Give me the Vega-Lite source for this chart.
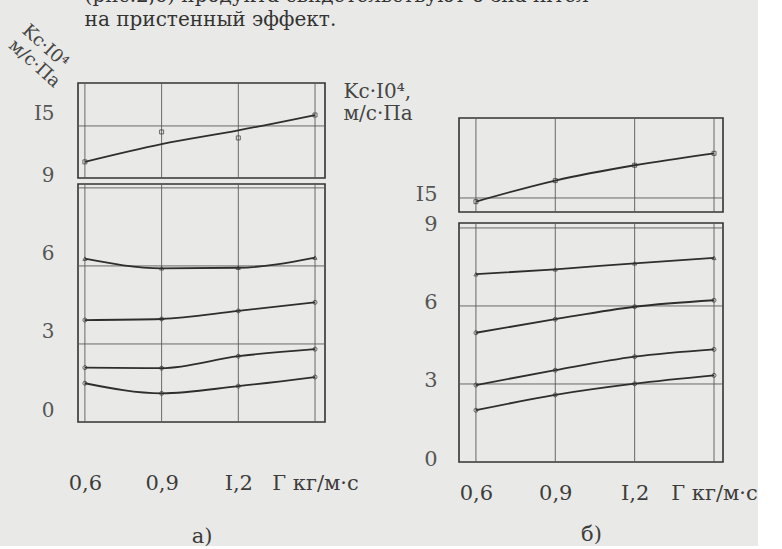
{
  "$schema": "https://vega.github.io/schema/vega-lite/v6.json",
  "background": "#e9e9e7",
  "padding": {"left": 4, "top": -14, "right": 0, "bottom": 0},
  "bounds": "flush",
  "spacing": 134,
  "title": {
    "text": ["\u2003\u2003\u2003(рис.2,б) продукта свидетельствуют о значител", "на пристенный эффект."],
    "anchor": "start", "font": "DejaVu Serif", "fontSize": 20, "fontWeight": "normal",
    "color": "#333333", "lineHeight": 24, "offset": -9, "dx": 80
  },
  "config": {"view": {"stroke": null}, "font": "DejaVu Serif"},
  "datasets": {
    "frames": [
      {"panel": "a", "x": 0.573, "x2": 1.539, "y": 0, "y2": 9.15},
      {"panel": "a", "x": 0.573, "x2": 1.539, "y": 13.0, "y2": 16.65},
      {"panel": "b", "x": 0.536, "x2": 1.534, "y": 0, "y2": 9.19},
      {"panel": "b", "x": 0.536, "x2": 1.534, "y": 14.46, "y2": 18.08}
    ],
    "hgrid": [
      {"panel": "a", "x": 0.573, "x2": 1.539, "y": 3},
      {"panel": "a", "x": 0.573, "x2": 1.539, "y": 6},
      {"panel": "a", "x": 0.573, "x2": 1.539, "y": 9},
      {"panel": "a", "x": 0.573, "x2": 1.539, "y": 15},
      {"panel": "b", "x": 0.536, "x2": 1.534, "y": 3},
      {"panel": "b", "x": 0.536, "x2": 1.534, "y": 6},
      {"panel": "b", "x": 0.536, "x2": 1.534, "y": 9},
      {"panel": "b", "x": 0.536, "x2": 1.534, "y": 15}
    ],
    "vgrid": [
      {"panel": "a", "x": 0.6, "y": 0, "y2": 9.15},
      {"panel": "a", "x": 0.9, "y": 0, "y2": 9.15},
      {"panel": "a", "x": 1.2, "y": 0, "y2": 9.15},
      {"panel": "a", "x": 1.5, "y": 0, "y2": 9.15},
      {"panel": "a", "x": 0.6, "y": 13.0, "y2": 16.65},
      {"panel": "a", "x": 0.9, "y": 13.0, "y2": 16.65},
      {"panel": "a", "x": 1.2, "y": 13.0, "y2": 16.65},
      {"panel": "a", "x": 1.5, "y": 13.0, "y2": 16.65},
      {"panel": "b", "x": 0.6, "y": 0, "y2": 9.19},
      {"panel": "b", "x": 0.9, "y": 0, "y2": 9.19},
      {"panel": "b", "x": 1.2, "y": 0, "y2": 9.19},
      {"panel": "b", "x": 1.5, "y": 0, "y2": 9.19},
      {"panel": "b", "x": 0.6, "y": 14.46, "y2": 18.08},
      {"panel": "b", "x": 0.9, "y": 14.46, "y2": 18.08},
      {"panel": "b", "x": 1.2, "y": 14.46, "y2": 18.08},
      {"panel": "b", "x": 1.5, "y": 14.46, "y2": 18.08}
    ],
    "lines": [
      {"panel": "a", "s": "top", "x": 0.6, "y": 13.62},
      {"panel": "a", "s": "top", "x": 0.9, "y": 14.30},
      {"panel": "a", "s": "top", "x": 1.2, "y": 14.83},
      {"panel": "a", "s": "top", "x": 1.5, "y": 15.42},
      {"panel": "a", "s": "s1", "x": 0.6, "y": 6.28},
      {"panel": "a", "s": "s1", "x": 0.9, "y": 5.91},
      {"panel": "a", "s": "s1", "x": 1.2, "y": 5.93},
      {"panel": "a", "s": "s1", "x": 1.5, "y": 6.32},
      {"panel": "a", "s": "s2", "x": 0.6, "y": 3.92},
      {"panel": "a", "s": "s2", "x": 0.9, "y": 3.96},
      {"panel": "a", "s": "s2", "x": 1.2, "y": 4.27},
      {"panel": "a", "s": "s2", "x": 1.5, "y": 4.60},
      {"panel": "a", "s": "s3", "x": 0.6, "y": 2.09},
      {"panel": "a", "s": "s3", "x": 0.9, "y": 2.07},
      {"panel": "a", "s": "s3", "x": 1.2, "y": 2.53},
      {"panel": "a", "s": "s3", "x": 1.5, "y": 2.80},
      {"panel": "a", "s": "s4", "x": 0.6, "y": 1.49},
      {"panel": "a", "s": "s4", "x": 0.9, "y": 1.10},
      {"panel": "a", "s": "s4", "x": 1.2, "y": 1.38},
      {"panel": "a", "s": "s4", "x": 1.5, "y": 1.73},
      {"panel": "b", "s": "top", "x": 0.6, "y": 14.86},
      {"panel": "b", "s": "top", "x": 0.9, "y": 15.67},
      {"panel": "b", "s": "top", "x": 1.2, "y": 16.26},
      {"panel": "b", "s": "top", "x": 1.5, "y": 16.72},
      {"panel": "b", "s": "s1", "x": 0.6, "y": 7.22},
      {"panel": "b", "s": "s1", "x": 0.9, "y": 7.41},
      {"panel": "b", "s": "s1", "x": 1.2, "y": 7.64},
      {"panel": "b", "s": "s1", "x": 1.5, "y": 7.85},
      {"panel": "b", "s": "s2", "x": 0.6, "y": 4.97},
      {"panel": "b", "s": "s2", "x": 0.9, "y": 5.49},
      {"panel": "b", "s": "s2", "x": 1.2, "y": 5.97},
      {"panel": "b", "s": "s2", "x": 1.5, "y": 6.22},
      {"panel": "b", "s": "s3", "x": 0.6, "y": 2.96},
      {"panel": "b", "s": "s3", "x": 0.9, "y": 3.53},
      {"panel": "b", "s": "s3", "x": 1.2, "y": 4.05},
      {"panel": "b", "s": "s3", "x": 1.5, "y": 4.33},
      {"panel": "b", "s": "s4", "x": 0.6, "y": 1.99},
      {"panel": "b", "s": "s4", "x": 0.9, "y": 2.58},
      {"panel": "b", "s": "s4", "x": 1.2, "y": 3.01},
      {"panel": "b", "s": "s4", "x": 1.5, "y": 3.33}
    ],
    "pts": [
      {"panel": "a", "s": "top", "x": 0.6, "y": 13.62},
      {"panel": "a", "s": "top", "x": 0.9, "y": 14.77},
      {"panel": "a", "s": "top", "x": 1.2, "y": 14.54},
      {"panel": "a", "s": "top", "x": 1.5, "y": 15.42},
      {"panel": "a", "s": "s1", "x": 0.6, "y": 6.28},
      {"panel": "a", "s": "s1", "x": 0.9, "y": 5.91},
      {"panel": "a", "s": "s1", "x": 1.2, "y": 5.93},
      {"panel": "a", "s": "s1", "x": 1.5, "y": 6.32},
      {"panel": "a", "s": "s2", "x": 0.6, "y": 3.92},
      {"panel": "a", "s": "s2", "x": 0.9, "y": 3.96},
      {"panel": "a", "s": "s2", "x": 1.2, "y": 4.27},
      {"panel": "a", "s": "s2", "x": 1.5, "y": 4.60},
      {"panel": "a", "s": "s3", "x": 0.6, "y": 2.09},
      {"panel": "a", "s": "s3", "x": 0.9, "y": 2.07},
      {"panel": "a", "s": "s3", "x": 1.2, "y": 2.53},
      {"panel": "a", "s": "s3", "x": 1.5, "y": 2.80},
      {"panel": "a", "s": "s4", "x": 0.6, "y": 1.49},
      {"panel": "a", "s": "s4", "x": 0.9, "y": 1.10},
      {"panel": "a", "s": "s4", "x": 1.2, "y": 1.38},
      {"panel": "a", "s": "s4", "x": 1.5, "y": 1.73},
      {"panel": "b", "s": "top", "x": 0.6, "y": 14.86},
      {"panel": "b", "s": "top", "x": 0.9, "y": 15.67},
      {"panel": "b", "s": "top", "x": 1.2, "y": 16.26},
      {"panel": "b", "s": "top", "x": 1.5, "y": 16.72},
      {"panel": "b", "s": "s1", "x": 0.6, "y": 7.22},
      {"panel": "b", "s": "s1", "x": 0.9, "y": 7.41},
      {"panel": "b", "s": "s1", "x": 1.2, "y": 7.64},
      {"panel": "b", "s": "s1", "x": 1.5, "y": 7.85},
      {"panel": "b", "s": "s2", "x": 0.6, "y": 4.97},
      {"panel": "b", "s": "s2", "x": 0.9, "y": 5.49},
      {"panel": "b", "s": "s2", "x": 1.2, "y": 5.97},
      {"panel": "b", "s": "s2", "x": 1.5, "y": 6.22},
      {"panel": "b", "s": "s3", "x": 0.6, "y": 2.96},
      {"panel": "b", "s": "s3", "x": 0.9, "y": 3.53},
      {"panel": "b", "s": "s3", "x": 1.2, "y": 4.05},
      {"panel": "b", "s": "s3", "x": 1.5, "y": 4.33},
      {"panel": "b", "s": "s4", "x": 0.6, "y": 1.99},
      {"panel": "b", "s": "s4", "x": 0.9, "y": 2.58},
      {"panel": "b", "s": "s4", "x": 1.2, "y": 3.01},
      {"panel": "b", "s": "s4", "x": 1.5, "y": 3.33}
    ]
  },
  "hconcat": [
    {
      "width": 247,
      "height": 381,
      "encoding": {
        "x": {
          "field": "x", "type": "quantitative",
          "scale": {"domain": [0.573, 1.539], "nice": false, "zero": false},
          "axis": {
            "values": [0.6, 0.9, 1.2, 1.5],
            "labelExpr": "datum.value == 1.5 ? 'Г\u00a0кг/м·с' : replace(replace(format(datum.value, '.1f'), '.', ','), '1', 'I')",
            "domain": false, "ticks": false, "grid": false, "labelFlush": false, "labelOverlap": false,
            "labelPadding": 8, "labelFontSize": 21, "labelColor": "#3c3c3c", "labelFont": "DejaVu Serif",
            "title": "а)", "titleFontSize": 21, "titleFontWeight": "normal", "titleColor": "#3c3c3c",
            "titleFont": "DejaVu Serif", "titlePadding": 32
          }
        },
        "y": {
          "field": "y", "type": "quantitative",
          "scale": {"domain": [0, 9.15, 13.0, 16.65], "range": [339, 101, 95, 0], "nice": false, "zero": false},
          "axis": {
            "values": [0, 3, 6, 9, 15],
            "labelExpr": "replace(datum.label, '1', 'I')",
            "domain": false, "ticks": false, "grid": false, "labelOverlap": false, "labelFlush": false,
            "labelPadding": 24, "labelOffset": -12, "labelFontSize": 20, "labelColor": "#555555", "labelFont": "DejaVu Serif",
            "title": ["Kс·I0⁴", "м/с·Па"], "titleAngle": 42, "titleAlign": "left", "titleBaseline": "top",
            "titleX": -48, "titleY": -62, "titleFontSize": 18, "titleFontWeight": "normal",
            "titleColor": "#444444", "titleFont": "DejaVu Serif", "titleLineHeight": 20
          }
        }
      },
      "layer": [
        {"data": {"name": "frames"}, "transform": [{"filter": "datum.panel == 'a'"}],
         "mark": {"type": "rect", "fillOpacity": 0, "stroke": "#333333", "strokeWidth": 1.6},
         "encoding": {"x2": {"field": "x2"}, "y2": {"field": "y2"}}},
        {"data": {"name": "vgrid"}, "transform": [{"filter": "datum.panel == 'a'"}],
         "mark": {"type": "rule", "color": "#5a5a5a", "strokeWidth": 0.9},
         "encoding": {"y2": {"field": "y2"}}},
        {"data": {"name": "hgrid"}, "transform": [{"filter": "datum.panel == 'a'"}],
         "mark": {"type": "rule", "color": "#5a5a5a", "strokeWidth": 0.9},
         "encoding": {"x2": {"field": "x2"}}},
        {"data": {"name": "lines"}, "transform": [{"filter": "datum.panel == 'a'"}],
         "mark": {"type": "line", "color": "#2e2e2e", "strokeWidth": 1.8, "interpolate": "monotone"},
         "encoding": {"detail": {"field": "s"}}},
        {"data": {"name": "pts"}, "transform": [{"filter": "datum.panel == 'a'"}],
         "mark": {"type": "point", "size": 16, "color": "#2e2e2e", "strokeWidth": 1, "filled": false},
         "encoding": {"shape": {"field": "s", "scale": {"domain": ["top", "s1", "s2", "s3", "s4"], "range": ["square", "triangle-up", "circle", "circle", "circle"]}, "legend": null}}}
      ]
    },
    {
      "width": 264,
      "height": 381,
      "encoding": {
        "x": {
          "field": "x", "type": "quantitative",
          "scale": {"domain": [0.536, 1.534], "nice": false, "zero": false},
          "axis": {
            "values": [0.6, 0.9, 1.2, 1.5],
            "labelExpr": "datum.value == 1.5 ? 'Г\u00a0кг/м·с' : replace(replace(format(datum.value, '.1f'), '.', ','), '1', 'I')",
            "domain": false, "ticks": false, "grid": false, "labelFlush": false, "labelOverlap": false,
            "labelPadding": 18, "labelFontSize": 21, "labelColor": "#3c3c3c", "labelFont": "DejaVu Serif",
            "title": "б)", "titleFontSize": 21, "titleFontWeight": "normal", "titleColor": "#3c3c3c",
            "titleFont": "DejaVu Serif", "titlePadding": 20
          }
        },
        "y": {
          "field": "y", "type": "quantitative",
          "scale": {"domain": [0, 9.19, 14.46, 18.08], "range": [379, 140, 129, 35], "nice": false, "zero": false},
          "axis": {
            "values": [0, 3, 6, 9, 15],
            "labelExpr": "replace(datum.label, '1', 'I')",
            "domain": false, "ticks": false, "grid": false, "labelOverlap": false, "labelFlush": false,
            "labelPadding": 22, "labelOffset": -3, "labelFontSize": 21, "labelColor": "#555555", "labelFont": "DejaVu Serif",
            "title": ["Kс·I0⁴,", "м/с·Па"], "titleAngle": 0, "titleAlign": "left", "titleBaseline": "top",
            "titleX": -116, "titleY": -2, "titleFontSize": 20, "titleFontWeight": "normal",
            "titleColor": "#444444", "titleFont": "DejaVu Serif", "titleLineHeight": 22
          }
        }
      },
      "layer": [
        {"data": {"name": "frames"}, "transform": [{"filter": "datum.panel == 'b'"}],
         "mark": {"type": "rect", "fillOpacity": 0, "stroke": "#333333", "strokeWidth": 1.6},
         "encoding": {"x2": {"field": "x2"}, "y2": {"field": "y2"}}},
        {"data": {"name": "vgrid"}, "transform": [{"filter": "datum.panel == 'b'"}],
         "mark": {"type": "rule", "color": "#5a5a5a", "strokeWidth": 0.9},
         "encoding": {"y2": {"field": "y2"}}},
        {"data": {"name": "hgrid"}, "transform": [{"filter": "datum.panel == 'b'"}],
         "mark": {"type": "rule", "color": "#5a5a5a", "strokeWidth": 0.9},
         "encoding": {"x2": {"field": "x2"}}},
        {"data": {"name": "lines"}, "transform": [{"filter": "datum.panel == 'b'"}],
         "mark": {"type": "line", "color": "#2e2e2e", "strokeWidth": 1.8, "interpolate": "monotone"},
         "encoding": {"detail": {"field": "s"}}},
        {"data": {"name": "pts"}, "transform": [{"filter": "datum.panel == 'b'"}],
         "mark": {"type": "point", "size": 16, "color": "#2e2e2e", "strokeWidth": 1, "filled": false},
         "encoding": {"shape": {"field": "s", "scale": {"domain": ["top", "s1", "s2", "s3", "s4"], "range": ["square", "triangle-up", "circle", "circle", "circle"]}, "legend": null}}}
      ]
    }
  ]
}
